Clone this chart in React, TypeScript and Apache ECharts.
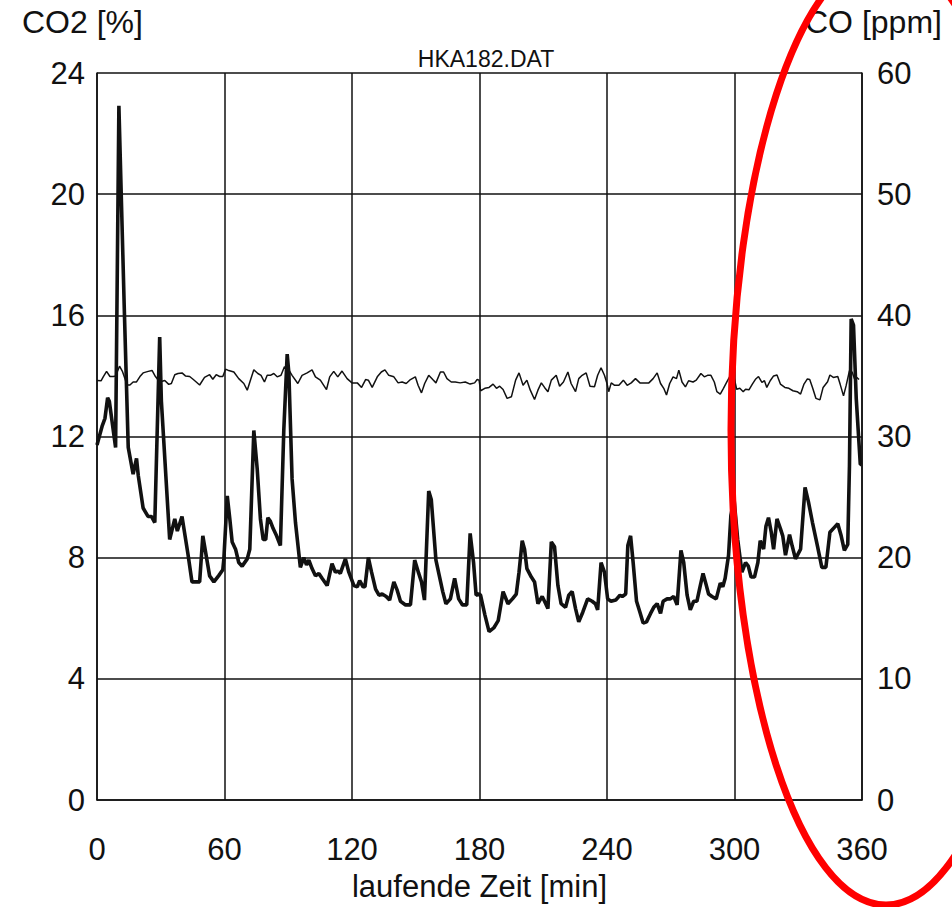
import React, { useEffect, useRef } from "react";
import * as echarts from "echarts";

const xTicks = [0, 60, 120, 180, 240, 300, 360];
const co2Ticks = [0, 4, 8, 12, 16, 20, 24];
const coTicks = [0, 10, 20, 30, 40, 50, 60];

const coMinutes = [
  0, 2.5, 3.75, 5, 5.8, 8.75, 10.3, 12.8, 14.7, 17, 18.6, 19.4, 21.7, 24, 25.6, 27.2, 29.5, 30.3, 34.2, 36.6,
  37.8, 40, 42.8, 44.7, 48.3, 49.8, 53, 55, 57.2, 59.2, 59.7, 61.3, 62.5, 63.6, 65.2, 66.7, 68.3, 70.7, 71.9, 73.8,
  75.4, 76.9, 78.2, 79.4, 80.4, 81.6, 82.9, 84.5, 86.3, 87.9, 89.5, 90.3, 91.8, 93.4, 95.7, 97.3, 98.6, 99.7, 101.2, 102.8,
  104.4, 105.9, 108.3, 110.6, 112.2, 113.3, 114.5, 116.9, 118.5, 120.9, 122.5, 123.6, 125.2, 126.1, 127.7, 129.2, 131.1, 132.7, 134.2, 136.1,
  137.7, 139.7, 141.3, 142.8, 145.2, 147.5, 149.5, 151.4, 152.7, 154.1, 156.1, 157.3, 159.5, 161.1, 162.7, 164.2, 166.3, 168.3, 170.2, 172,
  174, 175.6, 177.2, 178.4, 179.8, 180.5, 182.5, 184.5, 186.7, 188.8, 191.1, 193.4, 195.5, 197.3, 198.6, 200.1, 201.2, 202.3, 204.4, 205.9,
  207.5, 209.5, 210.6, 212.2, 213.8, 215.3, 216.9, 218.4, 220.5, 222, 223.6, 225.2, 226.7, 228.6, 230.9, 233, 234.5, 235.6, 237.2, 238.8,
  240.3, 241.9, 244.1, 246.1, 247.2, 248.8, 249.8, 251.1, 252.3, 253.9, 255.5, 257, 258.6, 260.5, 262, 263.6, 265.2, 266.4, 268.3, 269.8,
  271.4, 273, 274.8, 276.1, 277.7, 279.2, 280.8, 282.3, 283.9, 285.2, 286.3, 287.8, 289.4, 291.4, 293.3, 294.5, 295.6, 297.2, 298.3, 299.8,
  301.5, 303.5, 305.2, 306.5, 307.8, 309.4, 311, 312.1, 313.7, 314.8, 316, 317.3, 318.4, 320, 321.6, 322.7, 324, 325.9, 327.1, 328.7,
  331.1, 333.2, 334.8, 336.7, 339, 341.1, 343, 344.9, 347, 348.6, 350.2, 351.7, 353.3, 354.1, 354.9, 356, 357.3, 359.2, 359.7,
];
const coPpm = [
  29.3, 30.9, 31.5, 33.2, 32.9, 29.1, 57.3, 40.8, 29.1, 26.9, 28.2, 26.8, 24.1, 23.4, 23.4, 22.9, 38.2, 32.9, 21.5, 23.2,
  22.2, 23.4, 20.3, 18.0, 18.0, 21.8, 18.5, 18.0, 18.5, 19.0, 19.9, 25.1, 23.2, 21.3, 20.7, 19.6, 19.3, 19.9, 20.7, 30.5,
  27.3, 23.2, 21.5, 21.5, 23.3, 23.0, 22.4, 21.8, 21.0, 30.5, 36.8, 35.2, 26.5, 22.9, 19.2, 20.0, 19.4, 19.8, 19.1, 18.5,
  18.7, 18.3, 17.7, 19.5, 18.8, 18.9, 18.7, 19.9, 18.8, 17.7, 17.6, 18.1, 17.6, 17.6, 20.0, 18.8, 17.4, 16.9, 17.0, 16.8,
  16.5, 18.0, 17.3, 16.4, 16.1, 16.1, 19.8, 18.7, 18.0, 16.5, 25.5, 24.8, 19.8, 18.5, 17.2, 16.2, 16.6, 18.3, 16.6, 16.1,
  16.1, 22.0, 19.6, 16.9, 17.0, 16.9, 15.3, 13.9, 14.2, 14.8, 17.2, 16.2, 16.6, 17.0, 18.8, 21.4, 20.7, 19.1, 18.4, 18.0,
  16.2, 16.8, 16.4, 15.8, 21.3, 20.9, 17.7, 16.2, 15.9, 16.9, 17.2, 15.8, 14.7, 15.5, 16.6, 16.4, 16.2, 15.7, 19.6, 18.8,
  16.6, 16.4, 16.5, 16.9, 16.8, 17.0, 21.0, 21.8, 19.6, 16.4, 15.5, 14.6, 14.7, 15.4, 15.9, 16.2, 15.4, 16.4, 16.6, 16.6,
  16.8, 16.1, 20.6, 19.6, 16.9, 15.7, 16.4, 16.4, 17.7, 18.7, 18.0, 17.0, 16.8, 16.6, 17.9, 17.6, 18.3, 20.2, 23.5, 24.8,
  21.5, 18.8, 19.6, 19.3, 18.4, 18.4, 19.6, 21.4, 20.7, 22.6, 23.3, 22.1, 20.7, 23.2, 22.4, 21.8, 20.2, 21.9, 21.0, 19.9,
  20.7, 25.8, 24.6, 22.9, 21.0, 19.2, 19.2, 22.1, 22.5, 22.8, 21.8, 20.6, 21.1, 27.6, 39.7, 39.2, 33.1, 27.7, 27.7,
];

const co2Minutes = [
  0, 1.9, 3, 4.5, 6.1, 7.7, 8.75, 10.6, 11.9, 14.2, 15.5, 17, 18.6, 20.2, 21.7, 24.1, 25.9, 27.5, 29.5, 31.9,
  33.75, 35, 36.6, 38.1, 40, 41.6, 43.6, 45.2, 46.7, 48.3, 50.6, 53, 54.5, 56.1, 57.7, 59.2, 60.5, 61.6, 64.4, 66.7,
  69.1, 70.7, 72.2, 73.8, 75.7, 77.2, 78.8, 80.1, 81.6, 83.2, 84.8, 86.6, 88.2, 90.3, 91.8, 94.5, 96.5, 98.9, 101.2, 102.8,
  105.1, 108, 109.5, 111.4, 113.3, 115.3, 117.7, 120, 122.5, 124.5, 126.4, 127.7, 129.5, 131.9, 133.8, 135.5, 137.3, 139.7, 141.7, 143.6,
  145.5, 147.5, 149.8, 151.1, 152.7, 154.2, 156.1, 158, 159.5, 161.6, 163.1, 164.7, 166.7, 168.6, 170.9, 173.3, 175.6, 177.7, 178.9, 179.8,
  180.5, 182.5, 184.5, 186.4, 188, 189.5, 191.1, 193, 195, 197, 198.6, 200.5, 202.3, 203.9, 205.9, 207.5, 209.1, 210.6, 212.2, 213.8,
  216.1, 217.7, 219.5, 221.6, 223.1, 225.2, 226.7, 228.3, 230.2, 232, 234.1, 235.6, 237.2, 238.8, 240, 240.8, 242, 243.6, 245.6, 247.7,
  249.5, 251.4, 253.4, 255.5, 257.3, 259.7, 261.7, 263.6, 265.2, 266.7, 268, 269.5, 271.1, 272.7, 273.8, 275.3, 276.9, 278.4, 280.5, 282,
  284.2, 285.8, 287.3, 288.9, 290.5, 291.7, 293.3, 294.8, 296.4, 297.7, 299.5, 301, 302.5, 304.1, 305.2, 306.8, 308.4, 310, 311.3, 312.9,
  314.1, 315.2, 316.8, 318.4, 320, 321.6, 323.7, 325.6, 327.5, 329.5, 331.1, 332.7, 334.3, 335.4, 336.7, 338.3, 340.2, 341.7, 343.8, 344.9,
  346.5, 348.6, 349.7, 351.3, 352.5, 354.1, 355.4, 356.5, 357.6, 358.6,
];
const co2Percent = [
  13.85, 13.84, 13.98, 14.15, 13.98, 13.98, 14.0, 14.32, 14.16, 13.7, 13.7, 13.8, 13.8, 13.98, 14.1, 14.15, 14.18, 13.98, 13.8, 13.85,
  13.72, 13.75, 14.04, 14.08, 14.1, 14.0, 13.98, 13.89, 13.8, 13.7, 13.95, 14.04, 13.89, 14.04, 13.98, 13.98, 14.22, 14.19, 14.13, 13.91,
  13.75, 13.53, 13.86, 14.2, 14.08, 14.02, 13.8, 14.02, 14.02, 14.08, 13.97, 14.02, 14.3, 14.19, 14.02, 13.75, 14.02, 14.1, 14.2, 13.97,
  13.86, 13.55, 13.97, 14.15, 13.97, 14.16, 13.91, 13.77, 13.77, 13.62, 13.88, 13.86, 13.62, 13.97, 14.13, 14.2, 14.02, 13.97, 13.77, 13.8,
  13.75, 13.88, 13.97, 13.69, 13.44, 13.75, 14.02, 13.88, 13.77, 14.13, 14.13, 13.91, 13.8, 13.8, 13.77, 13.8, 13.73, 13.77, 13.88, 13.86,
  13.51, 13.59, 13.62, 13.73, 13.59, 13.66, 13.55, 13.26, 13.31, 13.86, 14.1, 13.69, 13.86, 13.53, 13.22, 13.53, 13.77, 13.62, 13.48, 13.86,
  14.02, 13.66, 13.8, 14.13, 13.75, 13.48, 13.91, 14.02, 14.1, 13.66, 13.64, 14.02, 14.27, 14.02, 13.75, 13.48, 13.77, 13.69, 13.69, 13.86,
  13.69, 13.77, 13.91, 13.77, 13.77, 13.77, 13.91, 14.1, 13.75, 13.59, 13.37, 13.75, 13.97, 13.91, 14.19, 13.8, 13.64, 13.84, 13.8, 13.86,
  14.08, 13.97, 14.02, 14.02, 13.8, 13.48, 13.4, 13.59, 13.8, 13.97, 14.05, 13.56, 13.59, 13.48, 13.56, 13.54, 13.73, 13.9, 13.98, 13.79,
  13.84, 13.62, 13.84, 14.0, 14.03, 13.73, 13.62, 13.59, 13.51, 13.48, 13.4, 13.73, 13.9, 13.88, 13.62, 13.26, 13.21, 13.62, 13.81, 14.03,
  13.95, 13.98, 13.73, 13.34, 13.67, 14.17, 14.12, 13.9, 13.95, 13.88,
];

const FONT = "'Liberation Sans', Arial, Helvetica, sans-serif";

export default function App() {
  const ref = useRef<HTMLDivElement>(null);
  useEffect(() => {
    if (!ref.current) return;
    const chart = echarts.init(ref.current, null, { renderer: "svg" });
    const coData = coMinutes.map((t, i) => [t, coPpm[i]]);
    const co2Data = co2Minutes.map((t, i) => [t, co2Percent[i]]);
    const gridLine = { color: "#111", width: 1.5 };
    chart.setOption({
      animation: false,
      backgroundColor: "#fff",
      textStyle: { fontFamily: FONT, color: "#111" },
      title: {
        text: "HKA182.DAT",
        left: 481,
        top: 42,
        textAlign: "center",
        textStyle: { fontFamily: FONT, fontSize: 23, fontWeight: "normal", color: "#111" },
      },
      grid: { left: 97, top: 73, width: 765, height: 738, containLabel: false },
      xAxis: {
        type: "value",
        min: 0,
        max: 360,
        interval: 60,
        name: "laufende Zeit [min]",
        nameLocation: "middle",
        nameGap: 71,
        nameTextStyle: { fontFamily: FONT, fontSize: 31, color: "#111" },
        axisLine: { show: true, lineStyle: gridLine },
        axisTick: { show: false },
        axisLabel: {
          fontFamily: FONT,
          fontSize: 31,
          color: "#111",
          margin: 34,
          formatter: (v: number) => (xTicks.includes(v) ? String(v) : ""),
        },
        splitLine: { show: true, lineStyle: gridLine },
      },
      yAxis: [
        {
          type: "value",
          min: 0,
          max: 24,
          interval: 4,
          position: "left",
          axisLine: { show: true, lineStyle: gridLine },
          axisTick: { show: false },
          axisLabel: {
            fontFamily: FONT,
            fontSize: 31,
            color: "#111",
            margin: 12,
            formatter: (v: number) => (co2Ticks.includes(v) ? String(v) : ""),
          },
          splitLine: { show: true, lineStyle: gridLine },
        },
        {
          type: "value",
          min: 0,
          max: 60,
          interval: 10,
          position: "right",
          axisLine: { show: true, lineStyle: gridLine },
          axisTick: { show: false },
          axisLabel: {
            fontFamily: FONT,
            fontSize: 31,
            color: "#111",
            margin: 15,
            formatter: (v: number) => (coTicks.includes(v) ? String(v) : ""),
          },
          splitLine: { show: false },
        },
      ],
      series: [
        {
          name: "CO2",
          type: "line",
          yAxisIndex: 0,
          data: co2Data,
          showSymbol: false,
          lineStyle: { color: "#111", width: 1.5 },
          z: 3,
        },
        {
          name: "CO",
          type: "line",
          yAxisIndex: 1,
          data: coData,
          showSymbol: false,
          lineStyle: { color: "#111", width: 3.6 },
          z: 4,
        },
      ],
      graphic: [
        {
          type: "text",
          left: 22,
          top: 6,
          style: { text: "CO2 [%]", font: `32px ${FONT}`, fill: "#111" },
        },
        {
          type: "text",
          left: 805,
          top: 6,
          style: { text: "CO [ppm]", font: `32px ${FONT}`, fill: "#111" },
        },
        {
          type: "ellipse",
          shape: { cx: 886, cy: 430, rx: 155, ry: 475 },
          style: { fill: "none", stroke: "#ff0000", lineWidth: 7 },
          z: 100,
        },
      ],
    });
    return () => chart.dispose();
  }, []);
  return (
    <div
      ref={ref}
      style={{ position: "fixed", left: 0, top: 0, width: 952, height: 907, background: "#fff" }}
    />
  );
}
